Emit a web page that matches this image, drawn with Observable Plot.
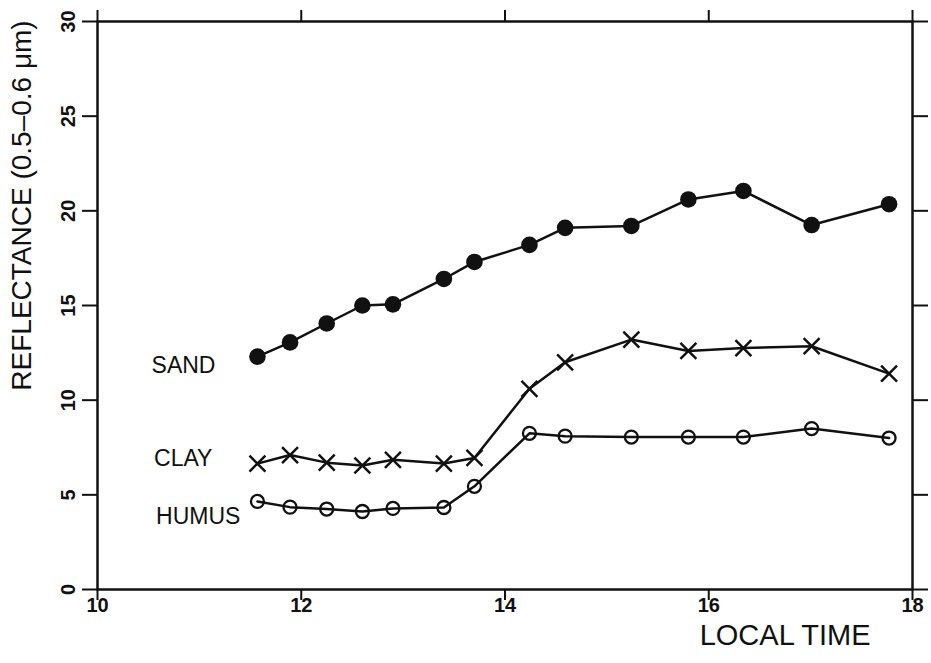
<!DOCTYPE html>
<html>
<head>
<meta charset="utf-8">
<script src="https://cdn.jsdelivr.net/npm/d3@7"></script>
<script src="https://cdn.jsdelivr.net/npm/@observablehq/plot@0.6"></script>
<style>
  html, body { margin: 0; padding: 0; background: #fff; }
  #chart svg { display: block; }
</style>
</head>
<body>
<div id="chart"></div>
<script>
// Local time (hours) of each measurement
const times = [11.57, 11.89, 12.25, 12.60, 12.90, 13.40, 13.70, 14.24, 14.59, 15.24, 15.80, 16.34, 17.01, 17.77];
// Reflectance (0.5–0.6 µm), percent
const sand  = [12.3, 13.05, 14.05, 15.0, 15.06, 16.4, 17.3, 18.2, 19.1, 19.2, 20.6, 21.05, 19.25, 20.35];
const clay  = [6.65, 7.1, 6.7, 6.55, 6.85, 6.65, 6.95, 10.6, 12.0, 13.2, 12.6, 12.75, 12.85, 11.4];
const humus = [4.65, 4.35, 4.25, 4.12, 4.28, 4.33, 5.45, 8.25, 8.1, 8.05, 8.05, 8.05, 8.5, 8.0];
const seriesNames = ["SAND", "CLAY", "HUMUS"];
const xTicks = [10, 12, 14, 16, 18];
const yTicks = [0, 5, 10, 15, 20, 25, 30];
const xTitle = "LOCAL TIME";
const yTitle = "REFLECTANCE (0.5–0.6 μm)";

const toRows = (vals, name) => vals.map((v, i) => ({time: times[i], value: v, soil: name}));
const sandRows = toRows(sand, seriesNames[0]);
const clayRows = toRows(clay, seriesNames[1]);
const humusRows = toRows(humus, seriesNames[2]);

const font = "Liberation Sans, Arial, Helvetica, sans-serif";

const chart = Plot.plot({
  width: 931,
  height: 663,
  marginLeft: 97,
  marginRight: 19,
  marginTop: 21,
  marginBottom: 74,
  style: {fontFamily: font, color: "#111", background: "#fff"},
  x: {domain: [10, 18]},
  y: {domain: [0, 30]},
  marks: [
    Plot.frame({stroke: "#111", strokeWidth: 2.5}),
    Plot.axisX({anchor: "bottom", ticks: xTicks, tickSize: 11, strokeWidth: 2, label: null, tickFormat: () => ""}),
    Plot.axisX({anchor: "top", ticks: xTicks, tickSize: 12, strokeWidth: 2, label: null, tickFormat: () => ""}),
    Plot.axisY({anchor: "left", ticks: yTicks, tickSize: 15, strokeWidth: 2, label: null, tickFormat: () => ""}),
    Plot.axisY({anchor: "right", ticks: yTicks, tickSize: 15, strokeWidth: 2, label: null, tickFormat: () => ""}),
    Plot.text(xTicks, {x: d => d, text: d => String(d), frameAnchor: "bottom", dy: 22,
      textAnchor: "middle", fontSize: 20, fontWeight: "bold", fill: "#111"}),
    Plot.text(yTicks, {y: d => d, text: d => String(d), frameAnchor: "left", dx: -29, rotate: -90,
      textAnchor: "middle", fontSize: 20, fontWeight: "bold", fill: "#111"}),
    Plot.text([xTitle], {frameAnchor: "bottom-right", dx: -42, dy: 55, textAnchor: "end",
      fontSize: 29, fill: "#111"}),
    Plot.text([yTitle], {frameAnchor: "left", dx: -75, dy: -100, rotate: -90, textAnchor: "middle",
      fontSize: 28, fill: "#111"}),

    Plot.line(sandRows, {x: "time", y: "value", stroke: "#111", strokeWidth: 2.5}),
    Plot.line(clayRows, {x: "time", y: "value", stroke: "#111", strokeWidth: 2.5}),
    Plot.line(humusRows, {x: "time", y: "value", stroke: "#111", strokeWidth: 2.5}),

    Plot.dot(sandRows, {x: "time", y: "value", r: 8.3, fill: "#111", stroke: "none"}),
    Plot.dot(clayRows, {x: "time", y: "value", symbol: "times", r: 7.3, stroke: "#111", strokeWidth: 2.5, fill: "none"}),
    Plot.dot(humusRows, {x: "time", y: "value", r: 6.5, stroke: "#111", strokeWidth: 2.3, fill: "none"}),

    Plot.text([sandRows[0]], {x: "time", y: "value", text: () => seriesNames[0], textAnchor: "end", dx: -42, dy: 9, fontSize: 23, fill: "#111"}),
    Plot.text([clayRows[0]], {x: "time", y: "value", text: () => seriesNames[1], textAnchor: "end", dx: -45, dy: -5, fontSize: 23, fill: "#111"}),
    Plot.text([humusRows[0]], {x: "time", y: "value", text: () => seriesNames[2], textAnchor: "end", dx: -17, dy: 15, fontSize: 23, fill: "#111"})
  ]
});
document.getElementById("chart").append(chart);
</script>
</body>
</html>
